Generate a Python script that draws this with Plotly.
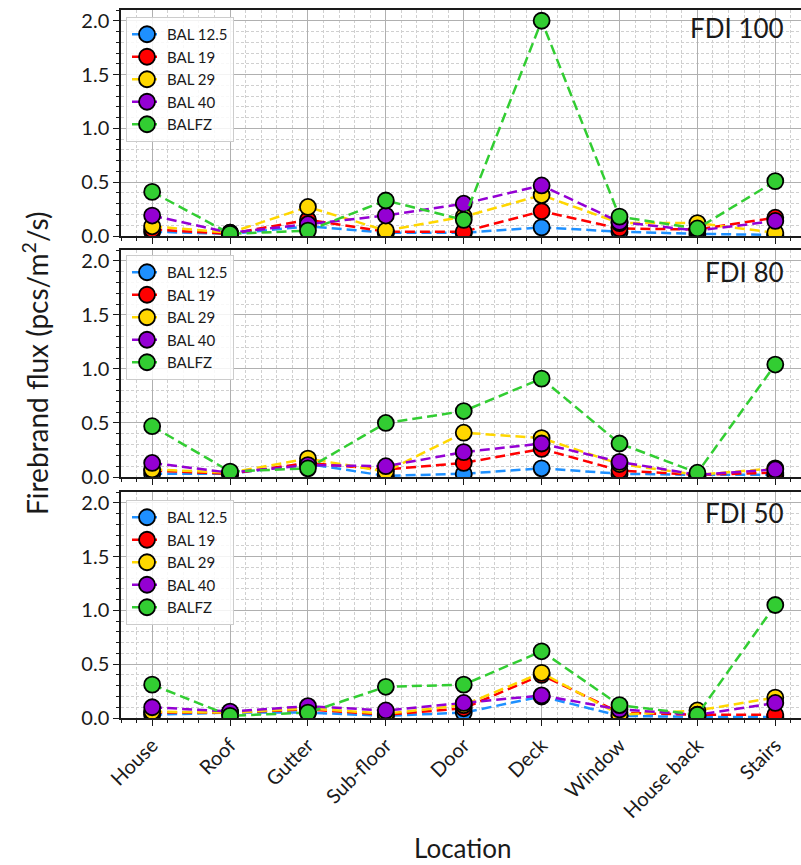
import plotly.graph_objects as go

locations = ["House", "Roof", "Gutter", "Sub-floor", "Door", "Deck", "Window", "House back", "Stairs"]
series_names = ["BAL 12.5", "BAL 19", "BAL 29", "BAL 40", "BALFZ"]
colors = ["#1E90FF", "#FF0000", "#FFD700", "#9400D3", "#32CD32"]
panel_titles = ["FDI 100", "FDI 80", "FDI 50"]

# FDI 100
fdi100_bal125 = [0.04, 0.02, 0.09, 0.03, 0.03, 0.08, 0.04, 0.02, 0.01]
fdi100_bal19  = [0.06, 0.02, 0.15, 0.04, 0.04, 0.23, 0.07, 0.06, 0.17]
fdi100_bal29  = [0.09, 0.03, 0.27, 0.05, 0.18, 0.38, 0.12, 0.12, 0.03]
fdi100_bal40  = [0.19, 0.03, 0.11, 0.19, 0.30, 0.47, 0.13, 0.05, 0.14]
fdi100_balfz  = [0.41, 0.02, 0.05, 0.33, 0.15, 2.00, 0.18, 0.07, 0.51]

# FDI 80
fdi80_bal125 = [0.03, 0.03, 0.12, 0.01, 0.03, 0.08, 0.03, 0.02, 0.02]
fdi80_bal19  = [0.06, 0.03, 0.13, 0.07, 0.13, 0.26, 0.06, 0.02, 0.04]
fdi80_bal29  = [0.07, 0.04, 0.17, 0.05, 0.41, 0.36, 0.12, 0.02, 0.08]
fdi80_bal40  = [0.13, 0.04, 0.11, 0.10, 0.23, 0.31, 0.14, 0.02, 0.07]
fdi80_balfz  = [0.47, 0.05, 0.08, 0.50, 0.61, 0.91, 0.31, 0.04, 1.04]

# FDI 50
fdi50_bal125 = [0.03, 0.05, 0.05, 0.02, 0.05, 0.20, 0.02, 0.01, 0.01]
fdi50_bal19  = [0.05, 0.05, 0.08, 0.03, 0.09, 0.40, 0.05, 0.03, 0.03]
fdi50_bal29  = [0.06, 0.05, 0.09, 0.04, 0.12, 0.42, 0.03, 0.07, 0.19]
fdi50_bal40  = [0.10, 0.06, 0.11, 0.07, 0.14, 0.21, 0.08, 0.03, 0.14]
fdi50_balfz  = [0.31, 0.02, 0.05, 0.29, 0.31, 0.62, 0.12, 0.03, 1.05]

panels = [
    [fdi100_bal125, fdi100_bal19, fdi100_bal29, fdi100_bal40, fdi100_balfz],
    [fdi80_bal125, fdi80_bal19, fdi80_bal29, fdi80_bal40, fdi80_balfz],
    [fdi50_bal125, fdi50_bal19, fdi50_bal29, fdi50_bal40, fdi50_balfz],
]

W, H = 801, 865
ML, MR, MT, MB = 121, 0, 10, 147
PH = H - MT - MB
PW = W - ML - MR

def py(pix):
    return (H - MB - pix) / PH

def px(pix):
    return (pix - ML) / PW

domains = [[py(236), py(10)], [py(477), py(250)], [py(718), py(492)]]
legend_tops = [py(17), py(255), py(500)]
title_ys = [py(28), py(272), py(513)]

FONT = "Lato"
TXT = "#1a1a1a"
xpos = list(range(len(locations)))

fig = go.Figure()
for p, data in enumerate(panels):
    ax = "" if p == 0 else str(p + 1)
    leg = "legend" if p == 0 else f"legend{p + 1}"
    for s, vals in enumerate(data):
        fig.add_trace(go.Scatter(
            x=xpos, y=vals, name=series_names[s], mode="lines+markers",
            xaxis="x" + ax, yaxis="y" + ax, legend=leg,
            line=dict(color=colors[s], width=2.5, dash="10px,5px"),
            marker=dict(size=16, color=colors[s], line=dict(color="black", width=1.8)),
        ))

layout = dict(
    width=W, height=H,
    margin=dict(l=ML, r=MR, t=MT, b=MB, autoexpand=False),
    paper_bgcolor="white", plot_bgcolor="white",
    font=dict(family=FONT, color=TXT),
    showlegend=True,
)

for p in range(3):
    ax = "" if p == 0 else str(p + 1)
    last = p == 2
    layout["xaxis" + ax] = dict(
        domain=[0, 1], anchor="y" + ax, range=[-0.4, 8.33], automargin=False,
        tickmode="array", tickvals=xpos, ticktext=locations,
        showticklabels=last, tickangle=-45,
        tickfont=dict(size=20, family=FONT, color=TXT),
        ticks="outside", ticklen=6, tickwidth=1.3, tickcolor=TXT,
        showgrid=True, gridcolor="#b0b0b0", gridwidth=1,
        showline=True, linecolor=TXT, linewidth=1.5, mirror=True,
        zeroline=False,
        minor=dict(tick0=0, dtick=0.2, ticks="outside", ticklen=3.5, tickcolor=TXT,
                   showgrid=True, gridcolor="#d0d0d0", gridwidth=0.8, griddash="3px,2px"),
        **({} if last else {"matches": "x3"}),
    )
    layout["yaxis" + ax] = dict(
        domain=domains[p], anchor="x" + ax, range=[0, 2.1], automargin=False,
        tickmode="array", tickvals=[0, 0.5, 1.0, 1.5, 2.0],
        ticktext=["0.0", "0.5", "1.0", "1.5", "2.0"],
        tickfont=dict(size=20, family=FONT, color=TXT),
        ticks="outside", ticklen=6, tickwidth=1.3, tickcolor=TXT,
        showgrid=True, gridcolor="#b0b0b0", gridwidth=1,
        showline=True, linecolor=TXT, linewidth=1.5, mirror=True,
        zeroline=False,
        minor=dict(tick0=0, dtick=0.1, ticks="outside", ticklen=3.5, tickcolor=TXT,
                   showgrid=True, gridcolor="#d0d0d0", gridwidth=0.8, griddash="3px,2px"),
    )
    lg = "legend" if p == 0 else f"legend{p + 1}"
    layout[lg] = dict(
        x=px(126), y=legend_tops[p], xref="paper", yref="paper",
        xanchor="left", yanchor="top",
        bgcolor="rgba(255,255,255,0.85)", bordercolor="#cccccc", borderwidth=1,
        font=dict(size=15, family=FONT, color=TXT),
        tracegroupgap=0, itemwidth=30,
    )

annotations = []
for p in range(3):
    annotations.append(dict(
        text=panel_titles[p], xref="paper", yref="paper",
        x=px(786), y=title_ys[p],
        xanchor="right", yanchor="middle", showarrow=False,
        font=dict(size=26, family=FONT, color=TXT),
    ))
annotations.append(dict(
    text="Firebrand flux (pcs/m<sup>2</sup>/s)", xref="paper", yref="paper",
    x=px(35), y=py(364), xanchor="center", yanchor="middle",
    textangle=-90, showarrow=False, font=dict(size=28, family=FONT, color=TXT),
))
annotations.append(dict(
    text="Location", xref="paper", yref="paper",
    x=px(463), y=py(848), xanchor="center", yanchor="middle",
    showarrow=False, font=dict(size=26, family=FONT, color=TXT),
))
layout["annotations"] = annotations

fig.update_layout(**layout)
fig.write_html("out.html", config={"displayModeBar": False})

# remove the default page margin so the figure sits at the window's top-left corner
with open("out.html", "r", encoding="utf-8") as f:
    html = f.read()
html = html.replace("<head>", "<head><style>html,body{margin:0;padding:0;overflow:hidden;}</style>", 1)
with open("out.html", "w", encoding="utf-8") as f:
    f.write(html)
